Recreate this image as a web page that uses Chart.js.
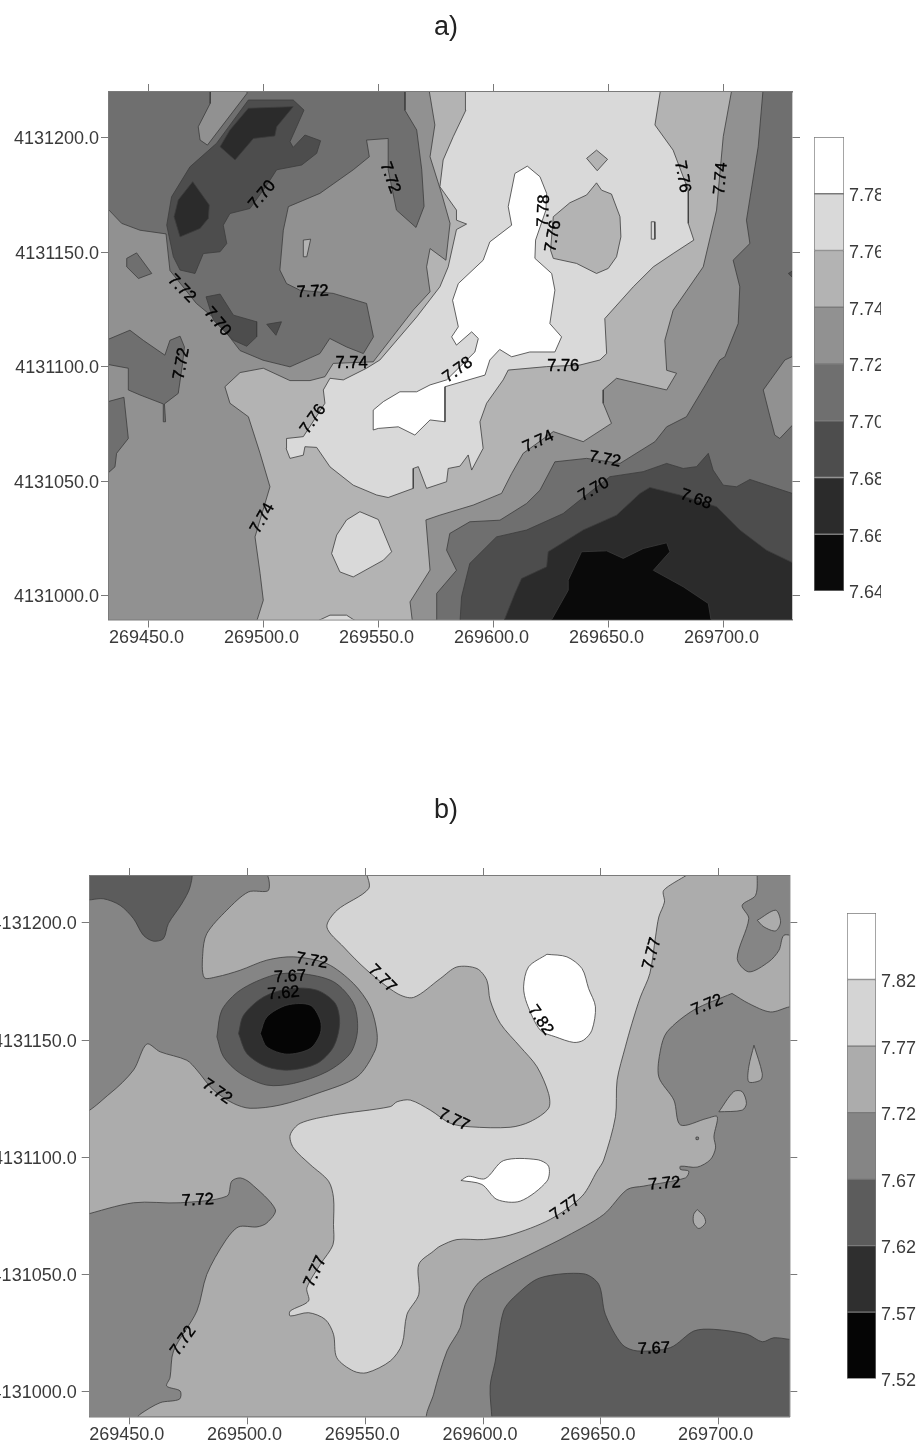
<!DOCTYPE html>
<html>
<head>
<meta charset="utf-8">
<title>Contour maps</title>
<script src="https://cdn.jsdelivr.net/npm/chart.js@4"></script>
<style>
  html, body { margin: 0; padding: 0; background: #fff; }
  body { position: relative; width: 916px; height: 1448px; overflow: hidden; }
  canvas { position: absolute; filter: blur(0.5px); }
  .panel-title { position: absolute; left: 396px; width: 100px; text-align: center; font: 27px "Liberation Sans", sans-serif; color: #222; filter: blur(0.5px); }
</style>
</head>
<body>
<div class="panel-title" style="top:11px">a)</div>
<div class="panel-title" style="top:794px">b)</div>
<canvas id="map-a" width="810" height="588" style="left:0;top:72px"></canvas>
<canvas id="bar-a" width="67" height="476" style="left:814px;top:126px"></canvas>
<canvas id="map-b" width="806" height="601" style="left:0;top:856px"></canvas>
<canvas id="bar-b" width="70" height="488" style="left:847px;top:902px"></canvas>
<script>
// all rings are [east - 269000, north - 4131000]
const EAST_BASE = 269000;
const NORTH_BASE = 4131000;

const eastTicks = [269450, 269500, 269550, 269600, 269650, 269700];
const northTicks = [4131000, 4131050, 4131100, 4131150, 4131200];
const eastRange = [269433, 269730];
const northRange = [4130989.5, 4131220];

const levelsA = [7.64, 7.66, 7.68, 7.70, 7.72, 7.74, 7.76, 7.78, 7.80];
const levelsB = [7.52, 7.57, 7.62, 7.67, 7.72, 7.77, 7.82, 7.87];
const shadesA = ["#0a0a0a", "#2b2b2b", "#4d4d4d", "#6f6f6f", "#919191", "#b3b3b3", "#d9d9d9", "#ffffff"];
const shadesB = ["#050505", "#2f2f2f", "#5c5c5c", "#858585", "#acacac", "#d4d4d4", "#ffffff"];

// ================== map a) rings ======================
const aFrame = [[430,222],[733,222],[733,-12],[430,-12]];
const aNorthWest70 = [[430,222],[477.2,222],[477,215],[471.8,204.8],[472.6,199],[475.8,196.8],[493,219.4],[493,222],[561.7,222],[561.7,212],[566.8,203.4],[569,186],[570,170],[566.5,160.8],[558,168.4],[554.4,186],[554.4,199.7],[545,199],[546.2,191.7],[539.2,186],[524.7,175.7],[511,169.9],[508.8,159.6],[507.3,142.2],[510.2,136.3],[516,133.4],[530.5,132],[545,127.6],[548,113],[543.6,105.7],[536.3,108.6],[529,112.3],[524.7,105.7],[511.7,99.9],[500,102.8],[490,107],[479.8,120.3],[471,127.6],[459.5,142],[457.8,158],[446.5,159.6],[438.5,162.6],[433,168.4],[430,170]];
const aIsle70 = [[440.7,147.3],[445,149.7],[451.6,140.7],[445.8,138.5],[440.7,143.6]];
const aWest70 = [[430,110.8],[442.1,115.9],[447.9,111.5],[457.3,105],[459.5,111.5],[463.9,113.3],[465.8,108.6],[465,101.3],[463.1,88.3],[457.1,83.7],[457.6,75.9],[456.8,75.9],[456.6,83.7],[446.5,87.6],[441.4,89.8],[441.4,99.3],[430,101.4]];
const aEdge70 = [[430,84],[439.5,86.6],[441.4,68.6],[436.3,62.1],[435.6,56.2],[430,51.2]];
const aEast70 = [[717.5,222],[733,222],[733,-12],[575.5,-12],[575.5,0.9],[584.1,11],[579.8,19.8],[581.2,27.1],[589.9,32.2],[603,32.9],[614.6,40.2],[620.4,46],[626.9,58.4],[640.7,59.9],[655.2,57.7],[670.4,67.2],[675.5,73.7],[684.1,78.1],[692.8,92.7],[698.6,102.9],[700.8,104.3],[706.6,118.8],[707.3,134.9],[704.4,146.5],[711.7,153.8],[710.2,164],[715.3,196.1]];
const aNotch74 = [[517.5,155.3],[520.7,155.7],[519,148],[517.6,148]];
const aBand74 = [[572,222],[704,222],[700.1,200.5],[697.2,168.4],[691.4,143.6],[678.3,124.6],[674.7,111.5],[675.5,98.4],[679.8,97.1],[675.5,89.8],[653.7,94.9],[647.9,89.8],[647.9,84],[651.5,75.2],[639.2,67.2],[626.2,71.6],[613.1,62.1],[608.1,53.3],[603.7,44.6],[591.4,39.5],[576.9,35.1],[570.8,33],[572.6,11.1],[563.9,-2.8],[565,-12],[497,-12],[500.1,-2.1],[498.7,9.6],[496.5,25.6],[503,47.5],[498.7,62.1],[493.6,78.1],[485.6,84],[483.4,91.2],[490,97.4],[500.1,99.3],[511.7,93.9],[520.4,93.9],[526.9,95.6],[530.5,101.4],[547.9,102.1],[565.3,124.7],[572.6,132.7],[571.1,143.6],[572.6,151.6],[579.5,146.5],[581.3,162.6],[577.6,175.7],[572.6,191.7],[574.7,205.6]];
const aEastBlob72 = [[733,105.7],[726.9,102.9],[717.5,89.8],[719.7,81],[722.5,70.1],[724.7,68.6],[733,77.4]];
const aBand76 = [[588,222],[673,222],[670.4,205.6],[678.3,194.6],[684.9,177.1],[684.9,162.6],[687.3,155.3],[678.3,149.4],[669.7,143.6],[661,134.9],[648.6,121],[649.4,105.7],[646.5,102.9],[637.8,100.7],[623.3,100],[606.6,98.5],[604.4,94.2],[597.2,84],[594.3,75.9],[595.7,64.3],[590.7,54.8],[589.2,61.4],[585.6,56.5],[580.5,55.5],[579.8,49.7],[571.1,46.8],[567.5,56.3],[565.3,55.5],[565.3,46.8],[554.4,42.8],[549.4,43.9],[539.2,48.2],[529.1,56.2],[523.3,64.7],[518.2,65],[517.5,61.3],[511.7,59.9],[510,64.3],[510.2,68.6],[517.5,69.4],[526.9,84],[526.2,89.8],[529.1,94.9],[534.9,94.2],[545,99.3],[550.8,102.9],[566.8,121.7],[576.9,134.9],[580.5,143.6],[584.1,159.9],[588.5,162.3],[584.1,164],[584.1,168.4],[576.9,178.6],[578.3,190.3],[582.7,200.5],[588.2,212.1]];
const aSouthBlob76 = [[536.3,33],[542.1,36.6],[550.1,33.2],[555.9,19.1],[552.3,15.4],[539.2,8.1],[533.4,10.3],[529.8,18.3],[532,26.4]];
const aBump76 = [[524,-11],[529.1,-8.6],[536.3,-8.6],[540,-11]];
const aDiamond74 = [[640.7,191],[645,194.6],[649.8,190.6],[645.3,185.6]];
const aBlob74 = [[645,180.3],[647.2,177.1],[651.5,175.4],[655.2,165.5],[655.6,156.7],[653.7,148],[650.1,142.9],[645,140.7],[636.3,145.1],[626.2,147.3],[625,150.9],[626.2,165.5],[633.4,171.6],[640.7,175]];
const aSliver76 = [[668.8,163.3],[670.2,163.3],[670.4,155.7],[669,155.7]];
const aWhite78 = [[614.9,187.6],[620.4,183],[623.3,175.7],[623,168.4],[618.5,155.3],[618.2,147.3],[625.5,140.7],[626.9,133.4],[624.7,118.8],[629.8,113],[626.9,106.4],[616,106.4],[608.1,104.3],[602.9,107.5],[598.6,102.9],[596.5,96.3],[579.1,91.2],[579.1,75.9],[572.6,76.7],[566,70.1],[558.8,73.7],[550.1,73],[547.9,72.3],[547.9,81],[552.3,84.7],[559.5,89],[566.8,89],[572.6,92],[579.8,94.2],[592.1,106.4],[593.6,112.3],[590.7,115.2],[584.1,109.4],[582,113],[584.9,117.4],[582.4,129],[584.9,136.3],[595.7,146.5],[598.6,154.5],[608.1,161.8],[606.6,169.9],[609.5,184.4]];
const aUpper68 = [[493.6,216.5],[513.1,216.5],[517.8,212.1],[514.6,204.8],[511.7,198.3],[513.1,195.8],[518.2,201.2],[525,198.7],[523.3,193.2],[516.8,188.1],[505.9,186],[501.6,179.3],[494.3,169.1],[485.6,166.9],[482.7,161.8],[484.2,153.8],[481.3,150.2],[474,149.4],[470.4,140.7],[463.9,142.2],[461,148],[458.1,161.8],[460.2,174.2],[468.2,187.3],[479.8,197.6]];
const aLower68 = [[475.2,130.5],[481.3,131.7],[487.1,122.5],[497.2,119.6],[497.2,113],[492.9,108.9],[487.1,111.5],[478.4,120.3]];
const aTriangle68 = [[501.6,118.5],[508,119.6],[505.6,113.7]];
const aSouth68 = [[585.6,-12],[586.3,-0.6],[589.9,14],[601.5,25.6],[614.6,28.6],[630.5,35.8],[637.8,41.7],[650.8,51.9],[665.3,54.1],[675.5,57.7],[682.7,55.5],[688.5,56.3],[693.6,62.1],[695.7,54.8],[700.1,48.2],[705.9,47.5],[711.7,50.7],[730.1,44.6],[733,44],[733,-12]];
const aEdge68 = [[733,143.6],[728.4,140.7],[733,136.3]];
const aUpper66 = [[493.6,212.9],[513.1,213.6],[505.9,204.8],[505.1,200.8],[495.8,199.7],[487.8,190.3],[481.3,196.1],[485.6,203.4]];
const aMiddle66 = [[469.4,180.8],[476.6,170.6],[476.2,164.8],[472.6,160.4],[463.9,156.7],[461.3,165.5],[463.1,172.8]];
const aSouth66 = [[604.4,-12],[609.5,0.9],[612.4,7.4],[623.3,12.5],[624,19.1],[639.2,28.6],[653.7,35.1],[663.9,44.6],[668.2,47.2],[681.2,43.9],[697.2,38.8],[707.3,28.6],[718.9,19.8],[730.1,14.4],[733,14],[733,-12]];
const aSouth64 = [[624.7,-12],[632.7,2.3],[632.7,6.7],[638.5,19.1],[649.4,19.5],[656.6,16.2],[665.3,20.5],[675.5,23],[676.9,19.1],[669.7,11],[682.7,3.8],[693.6,-3.5],[695,-12]];

// painted in this order, each with the lower level of its band
const layersA = [
  [7.72, aFrame],
  [7.70, aNorthWest70], [7.70, aIsle70], [7.70, aWest70], [7.70, aEdge70], [7.70, aEast70],
  [7.74, aNotch74], [7.74, aBand74],
  [7.72, aEastBlob72],
  [7.76, aBand76], [7.76, aSouthBlob76], [7.76, aBump76],
  [7.74, aDiamond74], [7.74, aBlob74],
  [7.76, aSliver76],
  [7.78, aWhite78],
  [7.68, aUpper68], [7.68, aLower68], [7.68, aTriangle68], [7.68, aSouth68], [7.68, aEdge68],
  [7.66, aUpper66], [7.66, aMiddle66], [7.66, aSouth66],
  [7.64, aSouth64],
];

const aLabelText = ["7.70","7.72","7.72","7.70","7.72","7.74","7.72","7.76","7.74","7.78","7.76","7.74","7.72","7.70","7.68","7.78","7.76","7.76","7.74"];
const aLabelEast = [499.7,555.2,464.6,480.1,521.6,538.5,464.6,521.8,499.8,584.7,630.5,619.7,648.6,643.9,688.2,622.1,626.2,682.3,699.1];
const aLabelNorth = [175,182.5,134.1,119.6,132.7,101.6,101.3,77,33.7,98.5,100,67.2,59.5,46.3,42,168.1,157,183,182.2];
const aLabelAngle = [-50,70,45,50,-3,0,-80,-55,-60,-35,0,-25,10,-30,20,-88,-80,80,-85];

// ================== map b) rings ======================
const bFrame = [[430,222],[733,222],[733,-12],[430,-12]];
const bNorthWest67 = [[430,222],[506.8,222],[508.9,213.9],[500.4,213.2],[491.2,205.4],[482.7,195.4],[481,186.9],[481.6,176.7],[487,177],[496.9,179.8],[508.2,184.1],[519.5,185.5],[533.7,182.6],[545,174.1],[552.1,164.2],[555,152.8],[554.2,145.7],[546.5,134.3],[529.5,127.2],[513.9,122.3],[501.1,120.9],[494,123],[485.5,128.7],[478.5,137.2],[474.2,141.4],[462.9,145],[457.2,148.3],[451.6,137.2],[441.6,127.2],[430,120]];
const bCorner62 = [[430,222],[475.6,222],[475.6,215.3],[472.1,208.2],[466.4,199.7],[464.3,193.3],[460.1,192.2],[455.8,194.7],[451.6,201.8],[445.9,207.5],[438.8,210.3],[430,210.3]];
const bRing62 = [[487,151.4],[489.1,162.8],[496.9,171.3],[511,177.7],[522.4,178.4],[536.5,174.9],[545,165.6],[546.7,154.2],[543.6,144.3],[533.7,136.5],[519.5,131.5],[508.2,130.8],[496.9,135.8],[489.8,142.9]];
const bRing57 = [[496.2,152.8],[498.3,160.6],[506.8,168.4],[518.1,172],[529.5,171.3],[537.3,165.6],[539.1,157.1],[536.5,147.1],[529.5,140],[518.1,137.2],[508.2,138.6],[499.7,144.3]];
const bRing52 = [[505.4,152.8],[508.2,159.9],[516.7,164.9],[526.6,164.9],[530.9,158.5],[530.9,152.8],[526.6,146.4],[516.7,144],[508.2,147.1]];
const bBand77 = [[550.3,222],[687.3,222],[676.7,213.9],[677,208.9],[674.6,202.5],[673.2,194],[670.8,178.4],[666.8,168.4],[663.2,157.1],[660.4,147.1],[656.9,132.9],[656.2,117.3],[651.2,98.8],[648.4,94.1],[642,83.4],[628.5,73.5],[611.5,66.8],[600.2,64.9],[588.9,64.9],[581.8,62.1],[579,60],[572.7,54.3],[572.7,41.5],[567.7,33],[565.6,20.2],[560.6,13.1],[550.7,8.1],[545,8.8],[537.9,14.5],[536.5,24.5],[533,30.8],[525.9,33.7],[518.1,32.3],[518.1,34.4],[525.9,38.7],[525.2,44.3],[530.9,54.3],[536.3,62.8],[536.5,71.3],[536.5,82.7],[534.4,89.8],[526.6,96.9],[519.5,104],[518.1,109.5],[522.4,114.5],[536.5,118],[560.6,121.6],[563.5,123.7],[569.1,124.4],[577.6,120.1],[586.1,114.5],[594.5,113],[611.5,112.8],[620,115.2],[627.8,120.9],[627.8,127.2],[622.9,138.6],[615.8,147.1],[607.3,157.1],[603,167],[601.6,175.5],[597.4,180.5],[588.9,181.2],[581.8,176.2],[570.5,168.2],[563.5,169.9],[550.7,179.8],[540.8,189.7],[533.7,198.2],[538,205.4],[551.4,214.6]];
const bWhiteNorth = [[627.1,186.6],[635.6,185.5],[642,180.5],[644.8,172],[647.7,164.2],[646.2,154.2],[642.7,150],[638.5,149],[630.7,151.4],[624.3,154.2],[618.6,165.6],[617.2,172.7],[619.3,181.2]];
const bWhiteSouth = [[590.6,90.1],[593.8,91.9],[600.9,90.9],[608.7,98.6],[622.9,99],[627.8,96.2],[627.1,89.8],[615.8,81.3],[605.9,82],[599.5,88.4]];
const bWest67 = [[430,75.2],[451.6,80.6],[471.4,80.6],[491.2,83.4],[493.3,89.8],[496.9,91.2],[501.1,89.1],[511.8,77.7],[508.2,72],[504,70.3],[496.2,70.3],[490.5,64.2],[482.7,50],[478.5,34.4],[468.6,17.4],[467.1,6],[465.7,2.4],[471.4,0.3],[471.1,-3.2],[462.9,-4.7],[454.4,-9.6],[452,-12],[430,-12]];
const bEast67 = [[705.7,169.9],[712.8,165.6],[722,162],[730.2,164.2],[733,164],[733,-12],[577,-12],[579,-1.1],[584.7,17.4],[590.3,27.3],[592.4,37.2],[598.1,46.5],[607.3,52.2],[622.9,60],[635.6,66.4],[651.2,75.6],[661.1,86.2],[668.2,87.7],[685.9,91.2],[687.3,94.1],[683.8,94.8],[683.8,96.2],[690.9,95.8],[696.5,99],[698.7,104],[698,108.8],[699.4,117.3],[695.1,116.6],[683.8,113.8],[681,124.4],[674.6,134.3],[675.3,145.7],[678.1,153.5],[689.4,162.8]];
const bNorthEast67 = [[716.4,222],[733,222],[733,195],[727.7,194.7],[725.6,188.3],[721.3,183.4],[712.8,179.1],[707.9,184.8],[712.8,201.8],[710,207.5],[715.7,211.8]];
const bHole1 = [[716.4,201.1],[724.2,205.4],[726.3,200.4],[724.2,196.6],[719.2,198.3]];
const bHole2 = [[715,147.8],[718.5,135.8],[717.8,132.9],[712.8,132.2],[712.8,138.6]];
const bHole3 = [[700.1,119.4],[706.4,128],[710,128],[711.8,123],[710,120.1]];
const bHole4 = [[690.9,77.7],[693.7,74.9],[694.4,72],[691.6,69.6],[689.4,72],[689.4,75.6]];
const bDot67 = [[690.4,108.6],[691.4,108.6],[691.4,107.6],[690.4,107.6]];
const bSouth62 = [[603.8,-12],[603,2.4],[605.2,13.1],[608.7,34.4],[614.4,41.5],[624.3,48.6],[642.7,50.3],[649.1,45.8],[651.9,33],[659,20.2],[665.4,17.4],[679.5,18.8],[689.5,25.9],[697.9,26.6],[712.1,24.5],[718.5,21.3],[723.4,23],[730.2,22.3],[733,22],[733,-12]];

const layersB = [
  [7.72, bFrame],
  [7.67, bNorthWest67], [7.62, bCorner62],
  [7.62, bRing62], [7.57, bRing57], [7.52, bRing52],
  [7.77, bBand77], [7.82, bWhiteNorth], [7.82, bWhiteSouth],
  [7.67, bWest67], [7.67, bEast67], [7.67, bNorthEast67],
  [7.72, bHole1], [7.72, bHole2], [7.72, bHole3], [7.72, bHole4], [7.67, bDot67],
  [7.62, bSouth62],
];

const bLabelText = ["7.72","7.67","7.62","7.77","7.72","7.77","7.82","7.77","7.72","7.72","7.77","7.72","7.77","7.72","7.67"];
const bLabelEast = [527.3,518.1,515.3,557.1,487,587.5,624.3,671.7,695.1,478.9,528.8,472.8,634.9,677,672.5];
const bLabelNorth = [183.8,177,169.9,176.2,128,115.9,158.5,186.9,164.9,81.6,51.2,21.6,78.4,88.7,18.3];
const bLabelAngle = [10,-3,-5,45,35,25,55,-75,-22,-3,-65,-55,-35,-5,-2];

// ================== shared styling ======================
Chart.defaults.font.family = '"Liberation Sans", sans-serif';
Chart.defaults.font.size = 18;
Chart.defaults.color = "#3a3a3a";
Chart.defaults.animation = false;
Chart.defaults.plugins.legend.display = false;
Chart.defaults.plugins.tooltip.enabled = false;

const frameColor = "#7a7a7a";

function ringPoints(ring) {
  const closed = ring.concat([ring[0]]);
  return closed.map(([e, n]) => ({ x: EAST_BASE + e, y: NORTH_BASE + n }));
}

// draws the rotated contour values at their map position
const contourLabels = {
  id: "contourLabels",
  afterDatasetsDraw(chart, args, opts) {
    const { ctx, scales } = chart;
    ctx.save();
    ctx.font = '16.5px "Liberation Sans", sans-serif';
    ctx.fillStyle = "#000";
    ctx.strokeStyle = "#000";
    ctx.lineWidth = 0.4;
    ctx.textAlign = "center";
    ctx.textBaseline = "middle";
    opts.text.forEach((t, i) => {
      const px = scales.x.getPixelForValue(EAST_BASE + opts.east[i]);
      const py = scales.y.getPixelForValue(NORTH_BASE + opts.north[i]);
      ctx.save();
      ctx.translate(px, py);
      ctx.rotate((opts.angle[i] * Math.PI) / 180);
      ctx.fillText(t, 0, 0);
      ctx.strokeText(t, 0, 0);
      ctx.restore();
    });
    ctx.restore();
  },
};

function tickValues(values) {
  return (scale) => {
    scale.ticks = values.map((value) => ({ value }));
  };
}

function drawMap(id, layers, levels, shades, labels, smooth, boxes) {
  const datasets = layers
    .map(([level, ring]) => {
      const shade = shades[levels.indexOf(level)];
      return {
        data: ringPoints(ring),
        showLine: true,
        pointRadius: 0,
        fill: "shape",
        tension: smooth,
        backgroundColor: shade,
        borderColor: "#3c3c3c",
        borderWidth: 0.8,
      };
    })
    .reverse(); // chart.js paints the last dataset first

  const gridOpts = { drawOnChartArea: false, tickLength: 8, color: frameColor };
  const borderOpts = { color: frameColor, width: 1.4 };

  new Chart(document.getElementById(id), {
    type: "scatter",
    data: { datasets },
    plugins: [contourLabels],
    options: {
      responsive: false,
      events: [],
      layout: { padding: 0 },
      plugins: { contourLabels: labels },
      scales: {
        x: {
          position: "bottom",
          min: eastRange[0],
          max: eastRange[1],
          afterBuildTicks: tickValues(eastTicks),
          afterFit: (s) => { s.height = boxes.bottom; },
          grid: gridOpts,
          border: borderOpts,
          ticks: { autoSkip: false, maxRotation: 0, minRotation: 0, padding: 0, labelOffset: boxes.eastShift, callback: (v) => v.toFixed(1) },
        },
        y: {
          position: "left",
          min: northRange[0],
          max: northRange[1],
          afterBuildTicks: tickValues(northTicks),
          afterFit: (s) => { s.width = boxes.left; },
          grid: gridOpts,
          border: borderOpts,
          ticks: { autoSkip: false, padding: boxes.northPad, labelOffset: 1.5, callback: (v) => v.toFixed(1) },
        },
        xTop: {
          type: "linear",
          position: "top",
          min: eastRange[0],
          max: eastRange[1],
          afterBuildTicks: tickValues(eastTicks),
          afterFit: (s) => { s.height = boxes.top; },
          grid: gridOpts,
          border: borderOpts,
          ticks: { display: false },
        },
        yRight: {
          type: "linear",
          position: "right",
          min: northRange[0],
          max: northRange[1],
          afterBuildTicks: tickValues(northTicks),
          afterFit: (s) => { s.width = boxes.right; },
          grid: gridOpts,
          border: borderOpts,
          ticks: { display: false },
        },
      },
    },
  });
}

function drawScaleBar(id, levels, shades, pad) {
  const datasets = shades
    .map((shade, i) => ({
      data: [[levels[i], levels[i + 1]]],
      backgroundColor: shade,
      borderColor: frameColor,
      borderWidth: 1,
      borderSkipped: false,
      barPercentage: 1,
      categoryPercentage: 1,
      grouped: false,
    }));

  new Chart(document.getElementById(id), {
    type: "bar",
    data: { labels: [""], datasets },
    options: {
      responsive: false,
      events: [],
      layout: { padding: { top: pad.top, bottom: pad.bottom, left: 0, right: 0 } },
      scales: {
        x: { display: false },
        y: {
          position: "right",
          min: levels[0],
          max: levels[levels.length - 1],
          afterBuildTicks: tickValues(levels.slice(0, -1)),
          afterFit: (s) => {
            s.width = pad.labels;
            s.paddingTop = 0;
            s.paddingBottom = 0;
          },
          grid: { display: false, drawTicks: false },
          border: { display: false },
          ticks: { autoSkip: false, padding: 5, labelOffset: 2.5, callback: (v) => v.toFixed(2) },
        },
      },
    },
  });
}

drawMap("map-a", layersA, levelsA, shadesA,
  { text: aLabelText, east: aLabelEast, north: aLabelNorth, angle: aLabelAngle },
  0, { top: 20, bottom: 40.5, left: 109, right: 18, eastShift: -1.5, northPad: 2 });
drawMap("map-b", layersB, levelsB, shadesB,
  { text: bLabelText, east: bLabelEast, north: bLabelNorth, angle: bLabelAngle },
  0.3, { top: 20, bottom: 40.7, left: 89.7, right: 16.7, eastShift: -3, northPad: 5 });

drawScaleBar("bar-a", levelsA, shadesA, { top: 11, bottom: 11, labels: 37 });
drawScaleBar("bar-b", levelsB, shadesB, { top: 11, bottom: 11.3, labels: 41 });
</script>
</body>
</html>
